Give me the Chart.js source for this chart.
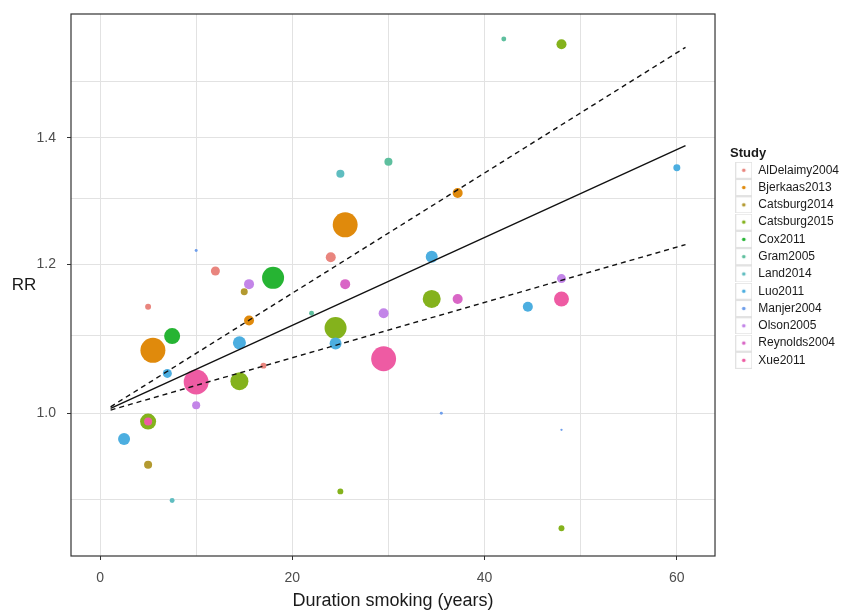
<!DOCTYPE html>
<html>
<head>
<meta charset="utf-8">
<script src="https://cdn.jsdelivr.net/npm/chart.js@4.4.1/dist/chart.umd.min.js"></script>
<style>
  html, body { margin: 0; padding: 0; background: #fff; }
  #wrap { width: 864px; height: 614px; }
</style>
</head>
<body>
<div id="wrap"><canvas id="rrChart"></canvas></div>
<script>
// Studies, in legend order
const studies = ['AlDelaimy2004', 'Bjerkaas2013', 'Catsburg2014', 'Catsburg2015', 'Cox2011', 'Gram2005',
                 'Land2014', 'Luo2011', 'Manjer2004', 'Olson2005', 'Reynolds2004', 'Xue2011'];
const studyColors = ['#e9857e', '#e08a0c', '#b39a30', '#84b21c', '#26b433', '#5ebf9e',
                     '#5fbdc0', '#4caee0', '#6e9eeb', '#c385e8', '#d966c6', '#ee5ba3'];

// One entry per estimate: study, duration (years), RR, study weight
const pointStudy = ['Gram2005', 'Catsburg2015', 'Land2014', 'Gram2005', 'Bjerkaas2013', 'AlDelaimy2004',
                    'AlDelaimy2004', 'Manjer2004', 'Cox2011', 'Olson2005', 'Catsburg2014', 'Reynolds2004',
                    'AlDelaimy2004', 'Cox2011', 'Bjerkaas2013', 'Bjerkaas2013', 'Luo2011', 'Luo2011',
                    'Xue2011', 'Olson2005', 'Catsburg2015', 'Xue2011', 'Luo2011', 'Catsburg2014',
                    'Land2014', 'Catsburg2015', 'AlDelaimy2004', 'Catsburg2015', 'Gram2005', 'Catsburg2015',
                    'Luo2011', 'Olson2005', 'Xue2011', 'Catsburg2015', 'Reynolds2004', 'Luo2011',
                    'Xue2011', 'Olson2005', 'Manjer2004', 'Manjer2004', 'Catsburg2015', 'Luo2011',
                    'Luo2011', 'Bjerkaas2013'];
const duration = [42.0, 48.0, 25.0, 30.0, 25.5, 24.0,
                  12.0, 10.0, 18.0, 15.5, 15.0, 25.5,
                  5.0, 7.5, 5.5, 15.5, 14.5, 7.0,
                  10.0, 10.0, 5.0, 5.0, 2.5, 5.0,
                  7.5, 25.0, 17.0, 14.5, 22.0, 24.5,
                  24.5, 29.5, 29.5, 34.5, 37.2, 44.5,
                  48.0, 48.0, 35.5, 48.0, 48.0, 60.0,
                  34.5, 37.2];
const rr = [1.580, 1.570, 1.340, 1.360, 1.259, 1.210,
            1.190, 1.220, 1.180, 1.171, 1.160, 1.171,
            1.139, 1.099, 1.080, 1.120, 1.090, 1.050,
            1.039, 1.010, 0.990, 0.990, 0.969, 0.939,
            0.899, 0.909, 1.060, 1.040, 1.130, 1.110,
            1.089, 1.130, 1.069, 1.150, 1.150, 1.139,
            1.150, 1.179, 1.000, 0.980, 0.869, 1.350,
            1.211, 1.309];
const weight = [0.9, 3.7, 2.4, 2.4, 23, 3.7,
                3.0, 0.33, 17.9, 3.7, 1.8, 3.7,
                1.3, 9.5, 23, 3.7, 6.3, 3.0,
                23, 2.4, 9.5, 2.4, 5.3, 2.4,
                0.9, 1.3, 1.3, 12, 0.9, 17.9,
                5.3, 3.7, 23, 12, 3.7, 3.7,
                8.3, 3.0, 0.33, 0.2, 1.3, 1.8,
                5.3, 3.7];

// Meta-regression line and 95% confidence band
const fitDuration = [1.1, 60.9];
const fitRR = [1.006, 1.387];
const fitUpper = [1.008, 1.564];
const fitLower = [1.004, 1.229];

// Axis breaks
const xTicks = [0, 10, 20, 30, 40, 50, 60];
const xLabels = [0, 20, 40, 60];
const yTicks = [0.9, 1.0, 1.1, 1.2, 1.3, 1.4, 1.5];
const yLabels = [1.0, 1.2, 1.4];

const family = '"Liberation Sans", Arial, Helvetica, sans-serif';
Chart.defaults.font.family = family;

function keyIcon(color) {
    const c = document.createElement('canvas');
    c.width = 17;
    c.height = 17;
    const g = c.getContext('2d');
    g.fillStyle = '#fff';
    g.fillRect(0, 0, 17, 17);
    g.strokeStyle = '#e2e2e2';
    g.lineWidth = 1;
    g.strokeRect(0.5, 0.5, 16, 16);
    g.fillStyle = color;
    g.beginPath();
    g.arc(8.5, 8.5, 1.8, 0, Math.PI * 2);
    g.fill();
    return c;
}
const keyIcons = studyColors.map(keyIcon);

const bubbleSets = studies.map((name, i) => ({
    label: name,
    data: duration
        .map((d, j) => ({ x: d, y: rr[j], r: 2.6 * Math.sqrt(weight[j]), s: pointStudy[j] }))
        .filter(p => p.s === name),
    backgroundColor: studyColors[i],
    borderWidth: 0,
    order: studies.length - i
}));

function fitLine(label, ys, dash) {
    return {
        type: 'line',
        label,
        data: fitDuration.map((d, i) => ({ x: d, y: ys[i] })),
        borderColor: '#111',
        borderWidth: 1.4,
        borderDash: dash,
        pointRadius: 0,
        fill: false,
        order: -1
    };
}

const panelFrame = {
    id: 'panelFrame',
    afterDatasetsDraw(chart) {
        const { ctx, chartArea: a } = chart;
        ctx.save();
        ctx.strokeStyle = '#333';
        ctx.lineWidth = 1.2;
        ctx.strokeRect(a.left, a.top, a.right - a.left, a.bottom - a.top);
        ctx.fillStyle = '#1a1a1a';
        ctx.font = '17px ' + family;
        ctx.textAlign = 'center';
        ctx.textBaseline = 'middle';
        ctx.fillText('RR', 24, (a.top + a.bottom) / 2);
        ctx.restore();
    }
};

const gridColor = '#e2e2e2';

new Chart(document.getElementById('rrChart'), {
    type: 'bubble',
    data: {
        datasets: [
            ...bubbleSets,
            fitLine('fit', fitRR, []),
            fitLine('upper', fitUpper, [5, 4]),
            fitLine('lower', fitLower, [5, 4])
        ]
    },
    options: {
        responsive: true,
        maintainAspectRatio: false,
        animation: false,
        layout: { padding: { top: 14, right: 15, bottom: 0, left: 0 } },
        plugins: {
            tooltip: { enabled: false },
            legend: {
                position: 'right',
                align: 'start',
                title: {
                    display: true,
                    text: 'Study',
                    position: 'start',
                    color: '#1a1a1a',
                    font: { size: 13, weight: 'bold', lineHeight: 1 },
                    padding: { top: 133, bottom: -1 }
                },
                labels: {
                    usePointStyle: true,
                    pointStyleWidth: 17,
                    padding: 5.28,
                    color: '#1a1a1a',
                    font: { size: 12 },
                    generateLabels: () => studies.map((name, i) => ({
                        text: name,
                        pointStyle: keyIcons[i],
                        datasetIndex: i,
                        fillStyle: studyColors[i],
                        strokeStyle: studyColors[i],
                        lineWidth: 0,
                        hidden: false
                    }))
                }
            }
        },
        scales: {
            x: {
                type: 'linear',
                min: -3.02,
                max: 63.97,
                afterFit: s => {
                    s.height = 58;
                    s.paddingLeft = 0;
                    s.paddingRight = 0;
                },
                afterBuildTicks: s => { s.ticks = xTicks.map(v => ({ value: v })); },
                grid: {
                    color: gridColor,
                    lineWidth: 1,
                    tickLength: 4,
                    tickWidth: 1,
                    tickColor: c => xLabels.includes(c.tick.value) ? '#333' : 'rgba(0,0,0,0)'
                },
                border: { display: false },
                ticks: {
                    color: '#4d4d4d',
                    font: { size: 14 },
                    padding: 10,
                    maxRotation: 0,
                    autoSkip: false,
                    callback: v => xLabels.includes(v) ? String(v) : ''
                },
                title: {
                    display: true,
                    text: 'Duration smoking (years)',
                    color: '#1a1a1a',
                    font: { size: 18, lineHeight: 1.2 },
                    padding: { top: 0, bottom: 2 }
                }
            },
            y: {
                type: 'logarithmic',
                min: 0.8447,
                max: 1.629,
                afterFit: s => {
                    s.width = 71;
                    s.paddingTop = 0;
                    s.paddingBottom = 0;
                },
                afterBuildTicks: s => { s.ticks = yTicks.map(v => ({ value: v })); },
                grid: {
                    color: gridColor,
                    lineWidth: 1,
                    tickLength: 4,
                    tickWidth: 1,
                    tickColor: c => yLabels.includes(c.tick.value) ? '#333' : 'rgba(0,0,0,0)'
                },
                border: { display: false },
                ticks: {
                    color: '#4d4d4d',
                    font: { size: 14 },
                    padding: 11,
                    autoSkip: false,
                    callback: v => yLabels.includes(v) ? v.toFixed(1) : ''
                }
            },
            gap: {
                type: 'linear',
                position: 'right',
                display: true,
                afterFit: s => {
                    s.width = 15;
                    s.paddingTop = 0;
                    s.paddingBottom = 0;
                },
                grid: { display: false, drawTicks: false },
                ticks: { display: false },
                border: { display: false }
            }
        }
    },
    plugins: [panelFrame]
});
</script>
</body>
</html>
